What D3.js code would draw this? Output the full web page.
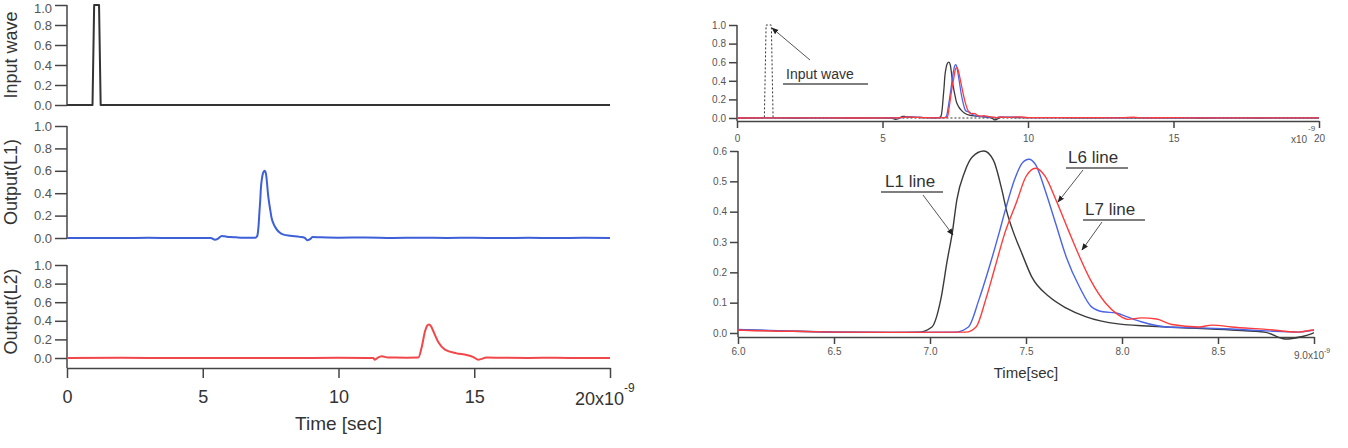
<!DOCTYPE html>
<html>
<head>
<meta charset="utf-8">
<script src="https://d3js.org/d3.v7.min.js"></script>
<style>
  body { margin: 0; background: #fff; }
  svg { display: block; font-family: "Liberation Sans", Arial, sans-serif; }
</style>
</head>
<body>
<svg id="chart" width="1348" height="448"></svg>
<script>
// all times in ns (axis shows x10^-9 sec)
var inputT = [0, 0.94, 1.0, 1.18, 1.24, 20];
var inputV = [0, 0, 1, 1, 0, 0];

var l1T = [0, 1, 2, 3, 4, 5, 5.3, 5.45, 5.55, 5.7, 5.8, 5.93, 6.0, 6.25, 6.5, 6.8, 6.94, 7.01, 7.056, 7.09,
           7.116, 7.14, 7.18, 7.22, 7.28, 7.33, 7.375, 7.40, 7.43, 7.48, 7.53, 7.62, 7.71, 7.81, 7.98, 8.23, 8.57, 8.75, 8.85, 8.95,
           9.05, 9.3, 9.6, 10, 11, 12, 13, 14, 15, 16, 17, 18, 19, 20];
var l1V = [0, 0.001, 0, 0.002, 0, 0.001, 0, -0.015, -0.008, 0.018, 0.015, 0.01, 0.01, 0.006, 0.003, 0.002, 0.003, 0.02, 0.11, 0.24,
           0.33, 0.44, 0.53, 0.58, 0.60, 0.57, 0.47, 0.40, 0.34, 0.26, 0.185, 0.12, 0.082, 0.054, 0.03, 0.02, 0.01, 0.002, -0.02, -0.01,
           0.008, 0.006, 0.004, 0.003, 0.004, 0.001, 0.003, 0.001, 0.002, -0.001, 0.002, 0, 0.002, 0.001];

var l2T = [0, 2, 4, 6, 8, 10, 11, 11.28, 11.34, 11.45, 11.59, 11.83, 12.5, 12.94, 13.06, 13.19, 13.26, 13.33, 13.41, 13.49,
           13.68, 13.92, 14.35, 14.72, 14.97, 15.15, 15.46, 16, 17, 18, 19, 20];
var l2V = [0, 0.002, 0, 0.001, 0, 0.002, 0.001, 0, -0.018, 0.005, 0.02, 0.005, 0.004, 0.005, 0.11, 0.29, 0.345, 0.36, 0.34, 0.29,
           0.17, 0.09, 0.05, 0.033, 0.01, -0.018, 0.005, 0.003, 0.001, 0.002, 0, 0.001];

var l6T = [0, 2, 4, 5.5, 5.75, 5.9, 6.0, 6.25, 6.5, 6.8, 7.13, 7.20, 7.255, 7.31, 7.36, 7.39, 7.44, 7.48, 7.515, 7.55,
           7.60, 7.655, 7.71, 7.78, 7.84, 7.90, 7.97, 8.02, 8.10, 8.23, 8.4, 8.57, 8.75, 8.92, 9.02, 9.3, 9.6, 10, 11, 12,
           13, 14, 15, 16, 17, 18, 19, 20];
var l6V = [0, 0.001, 0, 0.002, 0.008, 0.014, 0.012, 0.007, 0.003, 0.002, 0.003, 0.02, 0.11, 0.22, 0.33, 0.40, 0.505, 0.56, 0.573, 0.555,
           0.47, 0.36, 0.25, 0.15, 0.087, 0.07, 0.066, 0.055, 0.037, 0.02, 0.017, 0.013, 0.007, 0.003, 0.01, 0.008, 0.01, 0.004, 0.003, 0.005,
           0.002, 0.004, 0.001, 0.003, 0.002, 0.001, 0.002, 0.001];

var l7T = [0, 2, 4, 5.5, 5.8, 5.95, 6.0, 6.25, 6.5, 6.8, 7.186, 7.24, 7.29, 7.34, 7.39, 7.45, 7.50, 7.55, 7.60, 7.655,
           7.72, 7.78, 7.84, 7.915, 7.98, 8.03, 8.1, 8.18, 8.26, 8.4, 8.47, 8.57, 8.75, 8.92, 9.0, 9.3, 9.7, 10, 11, 12,
           13, 13.6, 14, 15, 16, 17, 18, 19, 20];
var l7V = [0, 0.002, 0, 0.001, 0.01, 0.012, 0.01, 0.006, 0.003, 0.002, 0.003, 0.02, 0.11, 0.22, 0.33, 0.43, 0.516, 0.543, 0.516, 0.44,
           0.34, 0.25, 0.17, 0.098, 0.06, 0.045, 0.05, 0.046, 0.028, 0.02, 0.026, 0.02, 0.012, 0.003, 0.01, 0.006, 0.012, 0.004, 0.003, 0.004,
           0.002, 0.008, 0.002, 0.003, 0.001, 0.002, 0.001, 0.002, 0.001];

var yTicks = [0, 0.2, 0.4, 0.6, 0.8, 1.0];
var timeTicks = [0, 5, 10, 15, 20];
var zoomTimeTicks = [6.0, 6.5, 7.0, 7.5, 8.0, 8.5, 9.0];
var zoomYTicks = [0, 0.1, 0.2, 0.3, 0.4, 0.5, 0.6];
var leftTitles = ["Input wave", "Output(L1)", "Output(L2)"];

var svg = d3.select('#chart');
var axisColor = '#444', labelColor = '#555', f1 = d3.format('.1f');

function pts(t, v) { return d3.zip(t, v); }

function drawLine(g, data, x, y, color, width, curve) {
    return g.append('path')
        .datum(data)
        .attr('fill', 'none')
        .attr('stroke', color)
        .attr('stroke-width', width)
        .attr('stroke-linejoin', 'round')
        .attr('d', d3.line().x(function(d) { return x(d[0]); }).y(function(d) { return y(d[1]); }).curve(curve || d3.curveMonotoneX));
}

function yAxis(scale, ticks, x, len, size) {
    var a = svg.append('g').attr('transform', 'translate(' + x + ',0)')
        .call(d3.axisLeft(scale).tickValues(ticks).tickFormat(f1).tickSize(len).tickSizeOuter(0).tickPadding(3));
    a.attr('font-family', null).attr('font-size', null);
    a.select('.domain').remove();
    a.selectAll('line').attr('stroke', axisColor).attr('stroke-width', 1.5);
    a.selectAll('text').attr('fill', labelColor).style('font-size', size + 'px');
    return a;
}

function xAxis(scale, ticks, y, len, size, fmt, pad) {
    var a = svg.append('g').attr('transform', 'translate(0,' + y + ')')
        .call(d3.axisBottom(scale).tickValues(ticks).tickFormat(fmt).tickSize(len).tickSizeOuter(0).tickPadding(pad));
    a.attr('font-family', null).attr('font-size', null);
    a.select('.domain').attr('stroke', axisColor).attr('stroke-width', 1.5);
    a.selectAll('line').attr('stroke', axisColor).attr('stroke-width', 1.5);
    a.selectAll('text').attr('fill', labelColor).style('font-size', size + 'px');
    return a;
}

function vline(x, y1, y2) {
    svg.append('line').attr('x1', x).attr('x2', x).attr('y1', y1).attr('y2', y2)
        .attr('stroke', axisColor).attr('stroke-width', 1.5);
}

// ---------- left panel: three stacked plots ----------
var xL = d3.scaleLinear().domain([0, 20]).range([67, 610]);
var yInp = d3.scaleLinear().domain([0, 1]).range([105, 5]);
var yOut1 = d3.scaleLinear().domain([0, 1]).range([238, 126]);
var yOut2 = d3.scaleLinear().domain([0, 1]).range([358, 265]);

[yInp, yOut1, yOut2].forEach(function(s, i) {
    var a = yAxis(s, yTicks, xL(0), 12, 13);
    if (i == 0) a.selectAll('text').filter(function(d) { return d == 1; }).attr('dy', '0.55em'); // keep top label inside
    vline(xL(0), s(1), i == 2 ? 368 : s(0));
    svg.append('text')
        .attr('transform', 'translate(17,' + (s(0) + s(1)) / 2 + ') rotate(-90)')
        .attr('text-anchor', 'middle')
        .attr('fill', '#333')
        .style('font-size', '18px')
        .text(leftTitles[i]);
});

var bx = xAxis(xL, timeTicks, 368, 10, 18, function(d) { return d == 20 ? '' : d; }, 12);
bx.selectAll('text').attr('fill', '#333');
var e1 = svg.append('text').attr('x', xL(20) - 35).attr('y', 405).attr('fill', '#333').style('font-size', '18px');
e1.append('tspan').text('20x10');
e1.append('tspan').attr('dy', -13).style('font-size', '12px').text('-9');
svg.append('text').attr('x', xL(10)).attr('y', 430).attr('text-anchor', 'middle')
    .attr('fill', '#333').style('font-size', '19px').text('Time [sec]');

drawLine(svg, pts(inputT, inputV), xL, yInp, '#333', 2, d3.curveLinear);
drawLine(svg, pts(l1T, l1V), xL, yOut1, '#3d5fd8', 2);
drawLine(svg, pts(l2T, l2V), xL, yOut2, '#f2474a', 2);

// ---------- right panel: overview (top) ----------
var xR = d3.scaleLinear().domain([0, 20]).range([737, 1319]);
var yR = d3.scaleLinear().domain([0, 1]).range([118, 25]);

yAxis(yR, yTicks, xR(0), 8, 10);
vline(xR(0), yR(1), 121);
xAxis(xR, timeTicks, 121, 7, 10, function(d) { return d; }, 7);
svg.append('text').attr('x', xR(20) - 12).attr('y', 143).attr('text-anchor', 'end')
    .attr('fill', labelColor).style('font-size', '10px').text('x10');
svg.append('text').attr('x', xR(20) - 11).attr('y', 131).attr('fill', labelColor).style('font-size', '8px').text('-9');

drawLine(svg, pts(inputT, inputV), xR, yR, '#333', 1, d3.curveLinear).attr('stroke-dasharray', '2,2');
drawLine(svg, pts(l1T, l1V), xR, yR, '#3a3a3a', 1.3);
drawLine(svg, pts(l6T, l6V), xR, yR, '#4a64e8', 1.3);
drawLine(svg, pts(l7T, l7V), xR, yR, '#ff3b3b', 1.3);

// ---------- right panel: zoom 6 - 9 ns (bottom) ----------
var xZ = d3.scaleLinear().domain([6, 9]).range([738, 1314]);
var yZ = d3.scaleLinear().domain([0, 0.6]).range([333, 151]);

svg.append('clipPath').attr('id', 'zclip').append('rect')
    .attr('x', xZ(6)).attr('y', 140).attr('width', xZ(9) - xZ(6)).attr('height', 200);

yAxis(yZ, zoomYTicks, xZ(6), 8, 10);
vline(xZ(6), yZ(0.6), 337);
xAxis(xZ, zoomTimeTicks, 337, 7, 10, function(d) { return d == 9 ? '' : f1(d); }, 4);
var e3 = svg.append('text').attr('x', xZ(9) - 20).attr('y', 359).attr('fill', labelColor).style('font-size', '10px');
e3.append('tspan').text('9.0x10');
e3.append('tspan').attr('dy', -6).style('font-size', '7px').text('-9');
svg.append('text').attr('x', xZ(7.5)).attr('y', 378).attr('text-anchor', 'middle')
    .attr('fill', '#333').style('font-size', '15px').text('Time[sec]');

var gz = svg.append('g').attr('clip-path', 'url(#zclip)');
drawLine(gz, pts(l1T, l1V), xZ, yZ, '#3a3a3a', 1.4);
drawLine(gz, pts(l6T, l6V), xZ, yZ, '#4a64e8', 1.4);
drawLine(gz, pts(l7T, l7V), xZ, yZ, '#ff3b3b', 1.4);

// ---------- callout labels with arrows ----------
svg.append('defs').append('marker')
    .attr('id', 'head').attr('viewBox', '0 0 10 10').attr('refX', 9).attr('refY', 5)
    .attr('markerWidth', 7).attr('markerHeight', 7).attr('orient', 'auto')
    .append('path').attr('d', 'M0,1 L10,5 L0,9 Z').attr('fill', '#222');

var callouts = [
    {text: 'Input wave', tx: 786, ty: 79, size: 14, ux1: 783, ux2: 868, uy: 84, ax1: 810, ay1: 60, ax2: 772, ay2: 28},
    {text: 'L1 line', tx: 885, ty: 187, size: 17, ux1: 881, ux2: 943, uy: 192, ax1: 923, ay1: 195, ax2: 953, ay2: 235},
    {text: 'L6 line', tx: 1068, ty: 163, size: 17, ux1: 1066, ux2: 1128, uy: 168, ax1: 1083, ay1: 170, ax2: 1058, ay2: 202},
    {text: 'L7 line', tx: 1085, ty: 215, size: 17, ux1: 1083, ux2: 1145, uy: 220, ax1: 1102, ay1: 222, ax2: 1082, ay2: 250}
];
callouts.forEach(function(c) {
    svg.append('text').attr('x', c.tx).attr('y', c.ty).attr('fill', '#333')
        .style('font-size', c.size + 'px').text(c.text);
    svg.append('line').attr('x1', c.ux1).attr('x2', c.ux2).attr('y1', c.uy).attr('y2', c.uy)
        .attr('stroke', '#555').attr('stroke-width', 1.5);
    svg.append('line').attr('x1', c.ax1).attr('y1', c.ay1).attr('x2', c.ax2).attr('y2', c.ay2)
        .attr('stroke', '#555').attr('stroke-width', 1).attr('marker-end', 'url(#head)');
});
</script>
</body>
</html>
